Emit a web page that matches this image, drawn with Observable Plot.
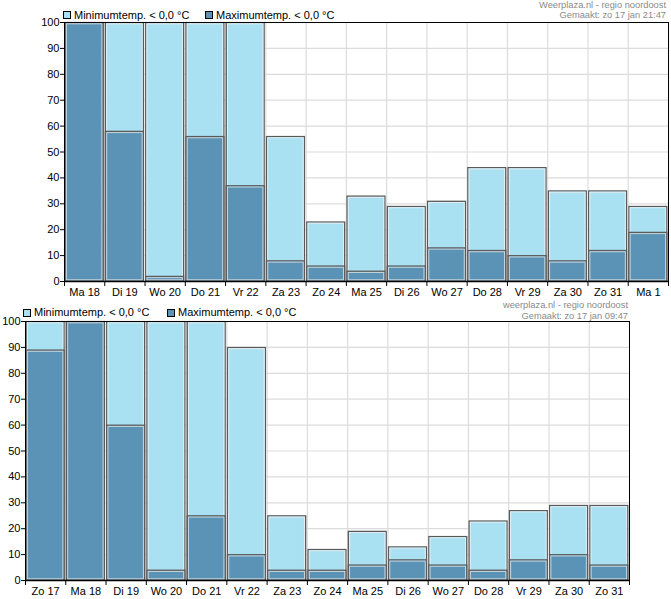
<!DOCTYPE html>
<html>
<head>
<meta charset="utf-8">
<script src="https://cdn.jsdelivr.net/npm/d3@7"></script>
<script src="https://cdn.jsdelivr.net/npm/@observablehq/plot@0.6"></script>
<style>
  body { margin: 0; background: #fff; font-family: "Liberation Sans", Arial, sans-serif; }
  .panel { position: relative; width: 671px; }
  .panel svg { display: block; }
  .legend { position: absolute; font-size: 11px; line-height: 11px; color: #000; white-space: nowrap; }
  .sw { position: absolute; width: 6px; height: 6px; border: 1px solid #000; }
  .hdr { position: absolute; text-align: right; font-size: 9.3px; line-height: 10.5px; color: #8a8a8a; white-space: nowrap; }
</style>
</head>
<body>
<div id="root"></div>
<script>
// ---- data: top chart (made zo 17 jan 21:47)
const days1 = ["Ma 18","Di 19","Wo 20","Do 21","Vr 22","Za 23","Zo 24","Ma 25","Di 26","Wo 27","Do 28","Vr 29","Za 30","Zo 31","Ma 1"];
const min1  = [100, 100, 100, 100, 100, 56, 23, 33, 29, 31, 44, 44, 35, 35, 29];
const max1  = [100, 58, 2, 56, 37, 8, 6, 4, 6, 13, 12, 10, 8, 12, 19];
// ---- data: bottom chart (made zo 17 jan 09:47)
const days2 = ["Zo 17","Ma 18","Di 19","Wo 20","Do 21","Vr 22","Za 23","Zo 24","Ma 25","Di 26","Wo 27","Do 28","Vr 29","Za 30","Zo 31"];
const min2  = [100, 100, 100, 100, 100, 90, 25, 12, 19, 13, 17, 23, 27, 29, 29];
const max2  = [89, 100, 60, 4, 25, 10, 4, 4, 6, 8, 6, 4, 8, 10, 6];
const yTicks = [0,10,20,30,40,50,60,70,80,90,100];
const legendLabels = ["Minimumtemp. < 0,0 °C", "Maximumtemp. < 0,0 °C"];
const colMin = "#a9e1f3", colMax = "#5b93b7";

function chart(days, minV, maxV, opt) {
  const n = days.length;
  const data = days.map((d, i) => ({i, day: d, min: minV[i], max: maxV[i]}));
  const bounds = d3.range(0, n + 1);
  const x1 = d => d.i, x2 = d => d.i + 1;
  return Plot.plot({
    width: 671, height: opt.height,
    marginLeft: opt.ml, marginRight: opt.mr, marginTop: opt.mt, marginBottom: opt.mb,
    style: {fontFamily: "'Liberation Sans', Arial, sans-serif", fontSize: "11px", color: "#000", background: "#fff"},
    x: {type: "linear", domain: [0, n]},
    y: {domain: [0, 100]},
    marks: [
      Plot.gridY(yTicks, {stroke: "#dcdcdc", strokeOpacity: 1, strokeWidth: 1.2}),
      Plot.gridX(bounds, {stroke: "#dcdcdc", strokeOpacity: 1, strokeWidth: 1.2}),
      Plot.rectY(data, {x1, x2, y: "min", fill: colMin, stroke: "#5a5a5a", strokeWidth: 1.3, insetLeft: 1.2, insetRight: 1.2, insetTop: 0.6}),
      Plot.rectY(data, {x1, x2, y: "min", fill: "none", stroke: "#e4eef2", strokeWidth: 1, insetLeft: 2.4, insetRight: 2.4, insetTop: 1.8, insetBottom: 1.2}),
      Plot.rectY(data, {x1, x2, y: "max", fill: colMax, stroke: "#5a5a5a", strokeWidth: 1.3, insetLeft: 1.2, insetRight: 1.2, insetTop: 0.6}),
      Plot.rectY(data, {x1, x2, y: "max", fill: "none", stroke: "#c9d6dc", strokeWidth: 1, insetLeft: 2.4, insetRight: 2.4, insetTop: 1.8, insetBottom: 1.2}),
      Plot.axisY({ticks: yTicks, tickSize: 4, tickPadding: 1, label: null}),
      Plot.axisX({ticks: bounds, tickSize: 5, tickFormat: () => "", label: null}),
      Plot.axisX({ticks: data.map(d => d.i + 0.5), tickSize: 0, tickPadding: 7, tickFormat: v => days[Math.floor(v)], label: null}),
      Plot.frame({stroke: "#000", strokeWidth: 1}),
      Plot.ruleY([0], {stroke: "#000", strokeWidth: 1.6})
    ]
  });
}

function panel(days, minV, maxV, opt) {
  const div = document.createElement("div");
  div.className = "panel";
  div.style.height = opt.height + "px";
  div.appendChild(chart(days, minV, maxV, opt));
  // legend
  legendLabels.forEach((lab, k) => {
    const sw = document.createElement("div");
    sw.className = "sw";
    sw.style.left = opt.legX[k] + "px";
    sw.style.top = (opt.legY - 4) + "px";
    sw.style.background = k === 0 ? colMin : colMax;
    div.appendChild(sw);
    const t = document.createElement("div");
    t.className = "legend";
    t.style.left = (opt.legX[k] + 11) + "px";
    t.style.top = (opt.legY - 5.5) + "px";
    t.textContent = lab;
    div.appendChild(t);
  });
  const h = document.createElement("div");
  h.className = "hdr";
  h.style.right = opt.hdrRight + "px";
  h.style.top = opt.hdrTop + "px";
  h.innerHTML = opt.hdr.join("<br>");
  div.appendChild(h);
  return div;
}

const root = document.getElementById("root");
root.appendChild(panel(days1, min1, max1, {
  height: 300, ml: 64, mr: 3, mt: 22, mb: 19,
  legX: [63, 205], legY: 15, hdrRight: 5, hdrTop: -0.5,
  hdr: ["Weerplaza.nl - regio noordoost", "Gemaakt: zo 17 jan 21:47"]
}));
root.appendChild(panel(days2, min2, max2, {
  height: 299, ml: 25, mr: 42, mt: 21, mb: 19,
  legX: [23, 167], legY: 12.5, hdrRight: 43, hdrTop: 0,
  hdr: ["weerplaza.nl - regio noordoost", "Gemaakt: zo 17 jan 09:47"]
}));
</script>
</body>
</html>
